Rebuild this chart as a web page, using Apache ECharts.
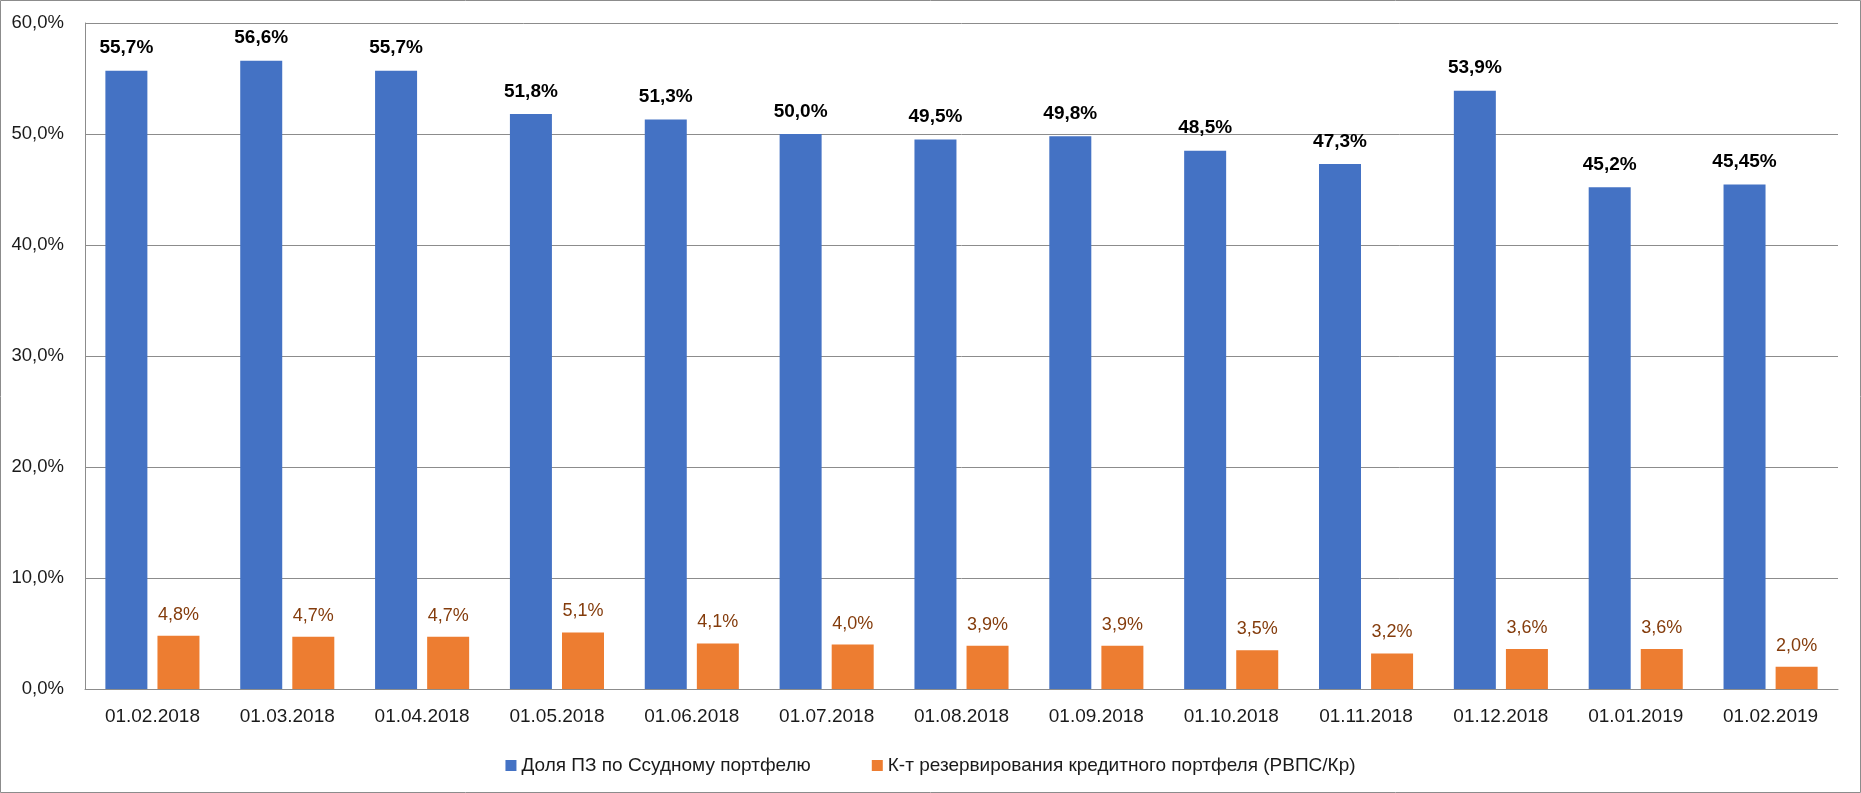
<!DOCTYPE html>
<html>
<head>
<meta charset="utf-8">
<script src="https://cdn.jsdelivr.net/npm/echarts@6/dist/echarts.min.js"></script>
<style>
html,body{margin:0;padding:0;background:#fff;}
#chart{width:1861px;height:793px;}
</style>
</head>
<body>
<div id="chart"></div>
<script>
const categories = ['01.02.2018','01.03.2018','01.04.2018','01.05.2018','01.06.2018','01.07.2018','01.08.2018','01.09.2018','01.10.2018','01.11.2018','01.12.2018','01.01.2019','01.02.2019'];
const shareNPL = [55.7, 56.6, 55.7, 51.8, 51.3, 50.0, 49.5, 49.8, 48.5, 47.3, 53.9, 45.2, 45.45];
const reserveRatio = [4.8, 4.7, 4.7, 5.1, 4.1, 4.0, 3.9, 3.9, 3.5, 3.2, 3.6, 3.6, 2.0];
const seriesNames = ['Доля ПЗ по Ссудному портфелю', 'К-т резервирования кредитного портфеля (РВПС/Кр)'];

const FONT = '"Liberation Sans", Arial, sans-serif';
function fmt(v){
  const oneDec = Math.abs(Math.round(v*10) - v*10) < 1e-6;
  return v.toFixed(oneDec ? 1 : 2).replace('.', ',') + '%';
}

const chart = echarts.init(document.getElementById('chart'), null, {renderer:'canvas'});
chart.setOption({
  animation:false,
  backgroundColor:'#ffffff',
  textStyle:{fontFamily:FONT},
  graphic:[{
    type:'rect', silent:true, z:-1,
    shape:{x:0.5,y:0.5,width:1860,height:792},
    style:{fill:'none',stroke:'#8c8c8c',lineWidth:1}
  }],
  grid:{left:85, right:23, top:23, bottom:104, containLabel:false},
  legend:{
    top:751, left:'center',
    itemWidth:11, itemHeight:11, itemGap:61,
    icon:'rect',
    textStyle:{fontFamily:FONT, fontSize:19, color:'#1a1a1a'},
    data:seriesNames
  },
  xAxis:{
    type:'category', data:categories,
    axisLine:{show:true, lineStyle:{color:'#8c8c8c', width:1}},
    axisTick:{show:false},
    axisLabel:{fontFamily:FONT, fontSize:19, color:'#1a1a1a', margin:18, interval:0}
  },
  yAxis:{
    type:'value', min:0, max:60, interval:10,
    axisLine:{show:true, lineStyle:{color:'#8c8c8c', width:1}},
    axisTick:{show:false},
    splitLine:{show:true, lineStyle:{color:'#8c8c8c', width:1}},
    axisLabel:{fontFamily:FONT, fontSize:18.5, color:'#1a1a1a', margin:21,
      formatter:v => v.toFixed(1).replace('.', ',') + '%'}
  },
  series:[
    {
      name:seriesNames[0], type:'bar', data:shareNPL,
      barWidth:42, barGap:'24%',
      itemStyle:{color:'#4472C4'},
      label:{show:true, position:'top', distance:13,
        fontFamily:FONT, fontSize:19, fontWeight:'bold', color:'#000000',
        formatter:p => fmt(p.value)}
    },
    {
      name:seriesNames[1], type:'bar', data:reserveRatio,
      barWidth:42, barGap:'24%',
      itemStyle:{color:'#ED7D31'},
      label:{show:true, position:'top', distance:12,
        fontFamily:FONT, fontSize:18, color:'#843C0C',
        formatter:p => fmt(p.value)}
    }
  ]
});
</script>
</body>
</html>
